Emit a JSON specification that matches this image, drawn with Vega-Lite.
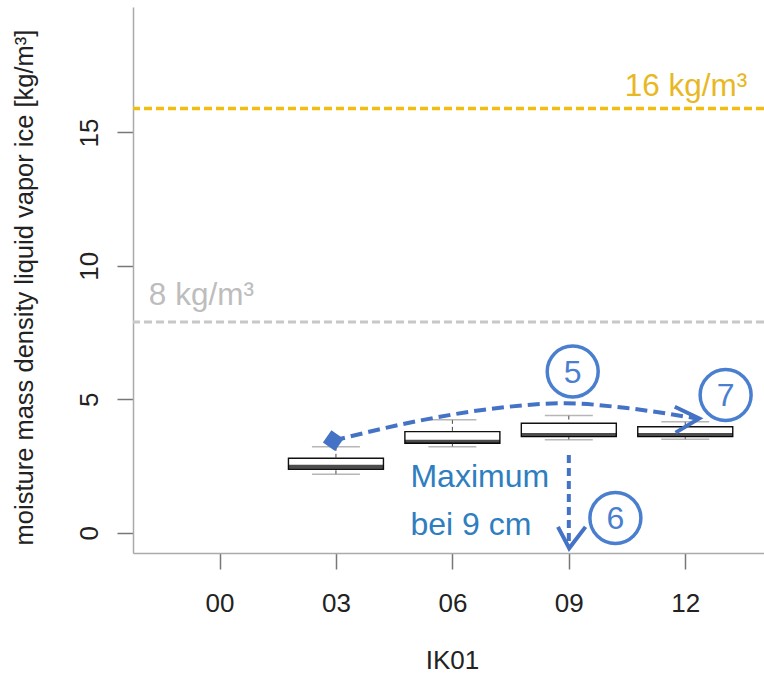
{
  "$schema": "https://vega.github.io/schema/vega-lite/v6.json",
  "autosize": {"type": "none"},
  "padding": {"left": 133, "top": 7, "right": 0, "bottom": 123},
  "width": 631,
  "height": 546,
  "background": "white",
  "config": {"view": {"stroke": null}, "font": "Liberation Sans"},
  "datasets": {
    "boxes": [
      {"depth": 3, "lower": 2.19, "q1": 2.38, "median": 2.47, "q3": 2.79, "upper": 3.22},
      {"depth": 6, "lower": 3.22, "q1": 3.35, "median": 3.41, "q3": 3.79, "upper": 4.23},
      {"depth": 9, "lower": 3.48, "q1": 3.6, "median": 3.66, "q3": 4.1, "upper": 4.39},
      {"depth": 12, "lower": 3.5, "q1": 3.6, "median": 3.66, "q3": 3.97, "upper": 4.16}
    ],
    "refs": [
      {"name": "high", "value": 15.9, "label": "16 kg/m³", "depth": 13.6, "labelValue": 16.35},
      {"name": "low", "value": 7.9, "label": "8 kg/m³", "depth": -1.82, "labelValue": 8.54}
    ],
    "curve": [
      {"depth": 2.93, "value": 3.45},
      {"depth": 5.09, "value": 4.18},
      {"depth": 6.77, "value": 4.6},
      {"depth": 8.9, "value": 4.85},
      {"depth": 10.5, "value": 4.67},
      {"depth": 12.3, "value": 4.28}
    ],
    "heads": [
      {"arrow": "right", "seq": 1, "depth": 11.73, "value": 4.72},
      {"arrow": "right", "seq": 2, "depth": 12.36, "value": 4.28},
      {"arrow": "right", "seq": 3, "depth": 11.75, "value": 3.75},
      {"arrow": "down", "seq": 1, "depth": 8.72, "value": 0.22},
      {"arrow": "down", "seq": 2, "depth": 9.01, "value": -0.58},
      {"arrow": "down", "seq": 3, "depth": 9.43, "value": 0.22}
    ],
    "drop": [{"depth": 9.0, "top": 2.91, "bottom": -0.5}],
    "marker": [{"depth": 2.93, "value": 3.45}],
    "circles": [
      {"depth": 9.1, "value": 6.04, "label": "5"},
      {"depth": 10.2, "value": 0.55, "label": "6"},
      {"depth": 13.04, "value": 5.16, "label": "7"}
    ],
    "notes": [
      {"depth": 4.92, "value": 1.72, "text": "Maximum"},
      {"depth": 4.92, "value": -0.09, "text": "bei 9 cm"}
    ]
  },
  "layer": [
    {
      "data": {"name": "boxes"},
      "mark": {"type": "bar", "fill": "white", "stroke": "#111", "strokeWidth": 1.4, "size": 95},
      "encoding": {
        "x": {
          "field": "depth", "type": "quantitative",
          "scale": {"domain": [-2.1, 13.9], "nice": false, "zero": false},
          "axis": {
            "values": [0, 3, 6, 9, 12], "format": "02d", "title": "IK01", "grid": false,
            "domainColor": "#AAAAAA", "domainWidth": 1.5, "tickColor": "#777777", "tickWidth": 1.5, "tickSize": 16,
            "labelFontSize": 26, "labelColor": "#222222", "labelBaseline": "alphabetic", "labelPadding": 42,
            "titleFontSize": 26, "titleFontWeight": "normal", "titleColor": "#222222",
            "titleBaseline": "alphabetic", "titleX": 319, "titleY": 115, "titleAlign": "center"
          }
        },
        "y": {
          "field": "q1", "type": "quantitative",
          "scale": {"domain": [-0.76, 19.7], "nice": false, "zero": false},
          "axis": {
            "values": [0, 5, 10, 15], "title": "moisture mass density liquid vapor ice [kg/m³]", "grid": false,
            "domainColor": "#AAAAAA", "domainWidth": 1.5, "tickColor": "#777777", "tickWidth": 1.5, "tickSize": 16,
            "labelFontSize": 26, "labelColor": "#222222", "labelAngle": -90, "labelAlign": "center", "labelBaseline": "alphabetic", "labelPadding": 20,
            "titleFontSize": 25.5, "titleFontWeight": "normal", "titleColor": "#222222", "titleAngle": -90,
            "titleBaseline": "alphabetic", "titleAlign": "center", "titleX": -101, "titleY": 280
          }
        },
        "y2": {"field": "q3"}
      }
    },
    {
      "data": {"name": "refs"},
      "transform": [{"filter": "datum.name === 'high'"}],
      "mark": {"type": "rule", "color": "#F2BC10", "strokeWidth": 3.5, "strokeDash": [8, 4]},
      "encoding": {
        "y": {"field": "value", "type": "quantitative", "scale": {"domain": [-0.76, 19.7], "nice": false, "zero": false}}
      }
    },
    {
      "data": {"name": "refs"},
      "transform": [{"filter": "datum.name === 'low'"}],
      "mark": {"type": "rule", "color": "#C8C8C8", "strokeWidth": 3, "strokeDash": [8, 4]},
      "encoding": {
        "y": {"field": "value", "type": "quantitative", "scale": {"domain": [-0.76, 19.7], "nice": false, "zero": false}}
      }
    },
    {
      "data": {"name": "refs"},
      "transform": [{"filter": "datum.name === 'high'"}],
      "mark": {"type": "text", "color": "#E8B824", "fontSize": 31.5, "align": "right", "baseline": "alphabetic"},
      "encoding": {
        "x": {"field": "depth", "type": "quantitative", "scale": {"domain": [-2.1, 13.9], "nice": false, "zero": false}},
        "y": {"field": "labelValue", "type": "quantitative", "scale": {"domain": [-0.76, 19.7], "nice": false, "zero": false}},
        "text": {"field": "label"}
      }
    },
    {
      "data": {"name": "refs"},
      "transform": [{"filter": "datum.name === 'low'"}],
      "mark": {"type": "text", "color": "#BDBDBD", "fontSize": 31.5, "align": "left", "baseline": "alphabetic"},
      "encoding": {
        "x": {"field": "depth", "type": "quantitative", "scale": {"domain": [-2.1, 13.9], "nice": false, "zero": false}},
        "y": {"field": "labelValue", "type": "quantitative", "scale": {"domain": [-0.76, 19.7], "nice": false, "zero": false}},
        "text": {"field": "label"}
      }
    },
    {
      "data": {"name": "boxes"},
      "mark": {"type": "rule", "color": "#444", "strokeWidth": 1, "strokeDash": [4, 3]},
      "encoding": {
        "x": {"field": "depth", "type": "quantitative", "scale": {"domain": [-2.1, 13.9], "nice": false, "zero": false}},
        "y": {"field": "upper", "type": "quantitative", "scale": {"domain": [-0.76, 19.7], "nice": false, "zero": false}},
        "y2": {"field": "q3"}
      }
    },
    {
      "data": {"name": "boxes"},
      "mark": {"type": "rule", "color": "#444", "strokeWidth": 1, "strokeDash": [4, 3]},
      "encoding": {
        "x": {"field": "depth", "type": "quantitative", "scale": {"domain": [-2.1, 13.9], "nice": false, "zero": false}},
        "y": {"field": "lower", "type": "quantitative", "scale": {"domain": [-0.76, 19.7], "nice": false, "zero": false}},
        "y2": {"field": "q1"}
      }
    },
    {
      "data": {"name": "boxes"},
      "mark": {"type": "tick", "orient": "horizontal", "color": "#999", "size": 48, "thickness": 1.5},
      "encoding": {
        "x": {"field": "depth", "type": "quantitative", "scale": {"domain": [-2.1, 13.9], "nice": false, "zero": false}},
        "y": {"field": "upper", "type": "quantitative", "scale": {"domain": [-0.76, 19.7], "nice": false, "zero": false}}
      }
    },
    {
      "data": {"name": "boxes"},
      "mark": {"type": "tick", "orient": "horizontal", "color": "#999", "size": 48, "thickness": 1.5},
      "encoding": {
        "x": {"field": "depth", "type": "quantitative", "scale": {"domain": [-2.1, 13.9], "nice": false, "zero": false}},
        "y": {"field": "lower", "type": "quantitative", "scale": {"domain": [-0.76, 19.7], "nice": false, "zero": false}}
      }
    },
    {
      "data": {"name": "boxes"},
      "mark": {"type": "tick", "orient": "horizontal", "color": "#000", "size": 95, "thickness": 4},
      "encoding": {
        "x": {"field": "depth", "type": "quantitative", "scale": {"domain": [-2.1, 13.9], "nice": false, "zero": false}},
        "y": {"field": "median", "type": "quantitative", "scale": {"domain": [-0.76, 19.7], "nice": false, "zero": false}}
      }
    },
    {
      "data": {"name": "curve"},
      "mark": {"type": "line", "color": "#4472C4", "strokeWidth": 4, "strokeDash": [12, 6], "interpolate": "monotone"},
      "encoding": {
        "x": {"field": "depth", "type": "quantitative", "scale": {"domain": [-2.1, 13.9], "nice": false, "zero": false}},
        "y": {"field": "value", "type": "quantitative", "scale": {"domain": [-0.76, 19.7], "nice": false, "zero": false}}
      }
    },
    {
      "data": {"name": "drop"},
      "mark": {"type": "rule", "color": "#4472C4", "strokeWidth": 4, "strokeDash": [8, 5]},
      "encoding": {
        "x": {"field": "depth", "type": "quantitative", "scale": {"domain": [-2.1, 13.9], "nice": false, "zero": false}},
        "y": {"field": "top", "type": "quantitative", "scale": {"domain": [-0.76, 19.7], "nice": false, "zero": false}},
        "y2": {"field": "bottom"}
      }
    },
    {
      "data": {"name": "heads"},
      "mark": {"type": "line", "color": "#4472C4", "strokeWidth": 4, "strokeJoin": "miter"},
      "encoding": {
        "x": {"field": "depth", "type": "quantitative", "scale": {"domain": [-2.1, 13.9], "nice": false, "zero": false}},
        "y": {"field": "value", "type": "quantitative", "scale": {"domain": [-0.76, 19.7], "nice": false, "zero": false}},
        "detail": {"field": "arrow"},
        "order": {"field": "seq"}
      }
    },
    {
      "data": {"name": "marker"},
      "mark": {"type": "point", "shape": "square", "filled": true, "color": "#4472C4", "size": 220, "angle": 35, "opacity": 1},
      "encoding": {
        "x": {"field": "depth", "type": "quantitative", "scale": {"domain": [-2.1, 13.9], "nice": false, "zero": false}},
        "y": {"field": "value", "type": "quantitative", "scale": {"domain": [-0.76, 19.7], "nice": false, "zero": false}}
      }
    },
    {
      "data": {"name": "circles"},
      "mark": {"type": "point", "shape": "circle", "filled": false, "stroke": "#4A7FD0", "strokeWidth": 3.5, "size": 2600, "opacity": 1},
      "encoding": {
        "x": {"field": "depth", "type": "quantitative", "scale": {"domain": [-2.1, 13.9], "nice": false, "zero": false}},
        "y": {"field": "value", "type": "quantitative", "scale": {"domain": [-0.76, 19.7], "nice": false, "zero": false}}
      }
    },
    {
      "data": {"name": "circles"},
      "mark": {"type": "text", "color": "#4A7FD0", "fontSize": 32, "align": "center", "baseline": "middle", "dy": 1},
      "encoding": {
        "x": {"field": "depth", "type": "quantitative", "scale": {"domain": [-2.1, 13.9], "nice": false, "zero": false}},
        "y": {"field": "value", "type": "quantitative", "scale": {"domain": [-0.76, 19.7], "nice": false, "zero": false}},
        "text": {"field": "label"}
      }
    },
    {
      "data": {"name": "notes"},
      "mark": {"type": "text", "color": "#2E7EC0", "fontSize": 32, "align": "left", "baseline": "alphabetic"},
      "encoding": {
        "x": {"field": "depth", "type": "quantitative", "scale": {"domain": [-2.1, 13.9], "nice": false, "zero": false}},
        "y": {"field": "value", "type": "quantitative", "scale": {"domain": [-0.76, 19.7], "nice": false, "zero": false}},
        "text": {"field": "text"}
      }
    }
  ]
}
